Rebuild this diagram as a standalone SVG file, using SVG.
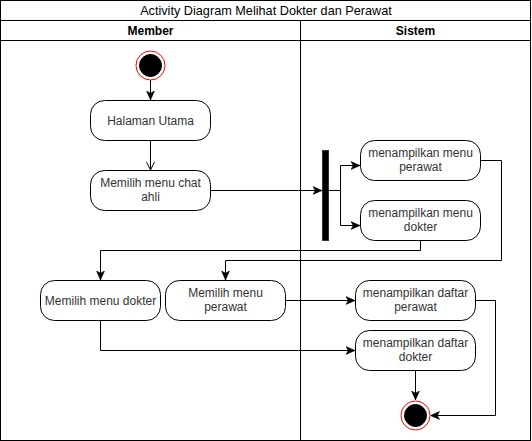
<svg xmlns="http://www.w3.org/2000/svg" width="532" height="441" viewBox="0 0 532 441">
<defs>
<marker id="arr" markerUnits="userSpaceOnUse" markerWidth="9" markerHeight="9" viewBox="0 0 8 8" refX="8" refY="4" orient="auto">
<path d="M0,0.5 L8,4 L0,7.5 L2,4 z" fill="#000" stroke="#000" stroke-width="0.5"/>
</marker>
<marker id="open" markerUnits="userSpaceOnUse" markerWidth="10" markerHeight="10" viewBox="0 0 10 10" refX="9" refY="5" orient="auto">
<path d="M1,1 L9,5 L1,9" fill="none" stroke="#000" stroke-width="1"/>
</marker>
</defs>
<style>
.lane{fill:none;stroke:#000;stroke-width:1}
.node{fill:#fff;stroke:#000;stroke-width:1}
.t{font-family:"Liberation Sans",Arial,sans-serif;font-size:12px;fill:#333;text-anchor:middle}
.h{font-family:"Liberation Sans",Arial,sans-serif;font-size:12px;fill:#000;text-anchor:middle}
.title{font-size:12.7px}
.hb{font-weight:bold}
.e{fill:none;stroke:#000;stroke-width:1}
</style>
<rect width="532" height="441" fill="#fff"/>
<g id="pool">
<rect class="lane" x="0.5" y="0.5" width="530" height="440"/>
<line class="lane" x1="0.5" y1="20.5" x2="530.5" y2="20.5"/>
<line class="lane" x1="0.5" y1="40.5" x2="530.5" y2="40.5"/>
<line class="lane" x1="300.5" y1="20.5" x2="300.5" y2="440.5"/>
<text class="h title" x="266" y="15">Activity Diagram Melihat Dokter dan Perawat</text>
<text class="h hb" x="150.5" y="35">Member</text>
<text class="h hb" x="415.5" y="35">Sistem</text>
</g>
<g id="edges">
<line class="e" x1="150.5" y1="80" x2="150.5" y2="100" marker-end="url(#arr)"/>
<line class="e" x1="150.5" y1="140" x2="150.5" y2="170" marker-end="url(#open)"/>
<line class="e" x1="210" y1="190.5" x2="322" y2="190.5" marker-end="url(#arr)"/>
<polyline class="e" points="328,190.5 340.5,190.5 340.5,165.5 360,165.5" marker-end="url(#arr)"/>
<polyline class="e" points="340.5,190.5 340.5,225.5 360,225.5" marker-end="url(#arr)"/>
<polyline class="e" points="420.5,240 420.5,250.5 100.5,250.5 100.5,280" marker-end="url(#arr)"/>
<polyline class="e" points="480,160.5 501.5,160.5 501.5,260.5 225.5,260.5 225.5,280" marker-end="url(#arr)"/>
<line class="e" x1="285" y1="300.5" x2="355" y2="300.5" marker-end="url(#arr)"/>
<polyline class="e" points="100.5,320 100.5,350.5 355,350.5" marker-end="url(#arr)"/>
<line class="e" x1="415.5" y1="370" x2="415.5" y2="400" marker-end="url(#arr)"/>
<polyline class="e" points="475,300.5 495.5,300.5 495.5,415.5 430.5,415.5" marker-end="url(#arr)"/>
</g>
<g id="start">
<circle cx="150.5" cy="65.5" r="14.5" fill="#fff" stroke="#f00" stroke-width="1"/>
<circle cx="150.5" cy="65.5" r="11" fill="#000" stroke="#000"/>
</g>
<g id="halaman">
<rect class="node" x="90.5" y="100.5" width="120" height="40" rx="14"/>
<text class="t" x="150.5" y="124.5">Halaman Utama</text>
</g>
<g id="chat">
<rect class="node" x="90.5" y="170.5" width="120" height="40" rx="14"/>
<text class="t" x="150.5" y="187">Memilih menu chat</text>
<text class="t" x="150.5" y="201">ahli</text>
</g>
<g id="fork">
<rect x="322.5" y="150.5" width="6" height="90" fill="#000" stroke="#333"/>
</g>
<g id="menuPerawat">
<rect class="node" x="360.5" y="140.5" width="120" height="40" rx="14"/>
<text class="t" x="420.5" y="157">menampilkan menu</text>
<text class="t" x="420.5" y="171">perawat</text>
</g>
<g id="menuDokter">
<rect class="node" x="360.5" y="200.5" width="120" height="40" rx="14"/>
<text class="t" x="420.5" y="217">menampilkan menu</text>
<text class="t" x="420.5" y="231">dokter</text>
</g>
<g id="pilihDokter">
<rect class="node" x="40.5" y="280.5" width="120" height="40" rx="14"/>
<text class="t" x="100.5" y="304.5">Memilih menu dokter</text>
</g>
<g id="pilihPerawat">
<rect class="node" x="165.5" y="280.5" width="120" height="40" rx="14"/>
<text class="t" x="225.5" y="297">Memilih menu</text>
<text class="t" x="225.5" y="311">perawat</text>
</g>
<g id="daftarPerawat">
<rect class="node" x="355.5" y="280.5" width="120" height="40" rx="14"/>
<text class="t" x="415.5" y="297">menampilkan daftar</text>
<text class="t" x="415.5" y="311">perawat</text>
</g>
<g id="daftarDokter">
<rect class="node" x="355.5" y="330.5" width="120" height="40" rx="14"/>
<text class="t" x="415.5" y="347">menampilkan daftar</text>
<text class="t" x="415.5" y="361">dokter</text>
</g>
<g id="end">
<circle cx="415.5" cy="415.5" r="14.5" fill="#fff" stroke="#f00" stroke-width="1"/>
<circle cx="415.5" cy="415.5" r="11" fill="#000" stroke="#000"/>
</g>
</svg>
